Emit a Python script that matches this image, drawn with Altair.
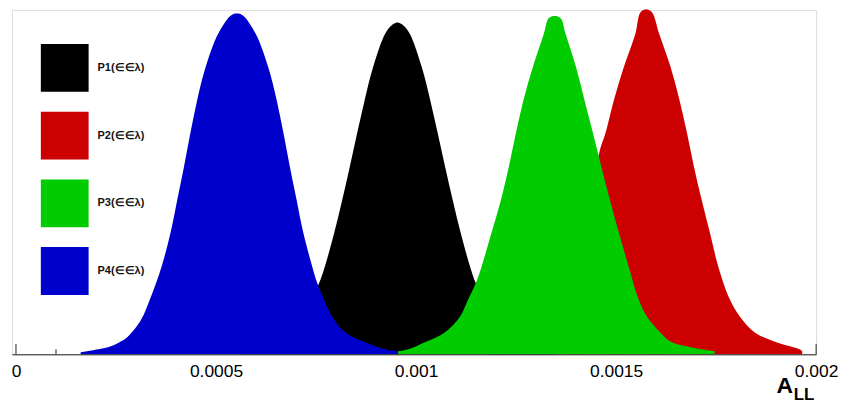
import altair as alt
import pandas as pd

# P1 (black)
p1_x = [0.00056, 0.0006177, 0.000645, 0.0006799, 0.0007147, 0.0007582, 0.0007719, 0.0007955,
        0.0008154, 0.0008341, 0.0008527, 0.0008714, 0.0008925, 0.0009224, 0.0009386,
        0.0009535, 0.0009684, 0.0009846, 0.0010144, 0.0010356, 0.0010542, 0.0010729,
        0.0010916, 0.0011115, 0.0011351, 0.0011488, 0.0011923, 0.0012272, 0.001262,
        0.0012893, 0.00135]
p1_y = [0.004, 0.01, 0.022, 0.05, 0.1, 0.2075, 0.2536, 0.3516, 0.4467, 0.5418, 0.6398,
        0.7349, 0.8308, 0.9271, 0.952, 0.9605, 0.952, 0.9271, 0.8308, 0.7349, 0.6398,
        0.5418, 0.4467, 0.3516, 0.2536, 0.2075, 0.1, 0.05, 0.022, 0.01, 0.004]

# P2 (red)
p2_x = [0.0011841, 0.0011923, 0.0012503, 0.0013043, 0.0013416, 0.0013666, 0.0013953,
        0.0014162, 0.0014368, 0.0014595, 0.0014734, 0.0014943, 0.0015192, 0.0015481,
        0.001561, 0.0015754, 0.0015896, 0.0016078, 0.0016364, 0.0016587, 0.0016774,
        0.0016948, 0.001714, 0.0017346, 0.0017555, 0.0017844, 0.0018093, 0.0018466,
        0.0019005, 0.0019585, 0.0019652]
p2_y = [0.0086, 0.0144, 0.0346, 0.0634, 0.1095, 0.1585, 0.2536, 0.3516, 0.4467, 0.5908,
        0.6398, 0.7349, 0.8308, 0.9271, 0.99, 0.999, 0.99, 0.9271, 0.8308, 0.7349, 0.6398,
        0.5418, 0.4467, 0.3516, 0.2536, 0.1585, 0.1095, 0.0634, 0.0346, 0.0144, 0.0086]

# P3 (green)
p3_x = [0.0009552, 0.0009801, 0.0010217, 0.0010716, 0.0011102, 0.0011301, 0.00115,
        0.0011637, 0.0011886, 0.0012122, 0.0012316, 0.0012495, 0.0012682, 0.0012918,
        0.0013192, 0.0013316, 0.0013465, 0.0013615, 0.0013739, 0.00140, 0.0014212,
        0.0014423, 0.0014635, 0.0014847, 0.001507, 0.0015316, 0.0015565, 0.0015771,
        0.0016102, 0.0016395, 0.0016891, 0.0017463]
p3_y = [0.0086, 0.0144, 0.0346, 0.0634, 0.1095, 0.1585, 0.2075, 0.2536, 0.3516, 0.4467,
        0.5418, 0.6398, 0.7349, 0.8308, 0.9271, 0.973, 0.9798, 0.973, 0.9271, 0.8308,
        0.7349, 0.6398, 0.5418, 0.4467, 0.3516, 0.2536, 0.1585, 0.1095, 0.0634, 0.0346,
        0.02, 0.0095]

# P4 (blue)
p4_x = [0.0001617, 0.0001965, 0.0002338, 0.0002587, 0.0002786, 0.0003127, 0.0003346,
        0.0003639, 0.0003863, 0.000403, 0.0004197, 0.0004358, 0.0004527, 0.0004739,
        0.000505, 0.0005373, 0.0005522, 0.0005672, 0.0005995, 0.0006306, 0.0006518,
        0.0006687, 0.0006848, 0.0007015, 0.0007182, 0.0007406, 0.0007525, 0.0007699,
        0.0007898, 0.0008234, 0.0008731, 0.0009229, 0.0009552]
p4_y = [0.006, 0.0125, 0.022, 0.035, 0.05, 0.10, 0.1585, 0.2536, 0.3516, 0.4467, 0.5418,
        0.6398, 0.7349, 0.8308, 0.927, 0.981, 0.9865, 0.981, 0.927, 0.8308, 0.7349,
        0.6398, 0.5418, 0.4467, 0.3516, 0.2536, 0.2075, 0.1585, 0.1095, 0.0634, 0.0346,
        0.0144, 0.0086]

series_names = ["P1(\u2208\u2208\u03bb)", "P2(\u2208\u2208\u03bb)", "P3(\u2208\u2208\u03bb)", "P4(\u2208\u2208\u03bb)"]
series_colors = ["#000000", "#cc0000", "#00cc00", "#0000cc"]

major_ticks = [0, 0.0005, 0.001, 0.0015, 0.002]
minor_ticks = [0.0001, 0.0002, 0.0003, 0.0004, 0.0006, 0.0007, 0.0008, 0.0009,
               0.0011, 0.0012, 0.0013, 0.0014, 0.0016, 0.0017, 0.0018, 0.0019]

rows = []
for name, xs, ys in zip(series_names, [p1_x, p2_x, p3_x, p4_x], [p1_y, p2_y, p3_y, p4_y]):
    for a, b in zip(xs, ys):
        rows.append({"series": name, "x": a, "y": b})
df = pd.DataFrame(rows)

xscale = alt.Scale(domain=[-0.00001, 0.002], nice=False, zero=False)
yscale = alt.Scale(domain=[0, 0.997], nice=False, zero=True)
cscale = alt.Scale(domain=series_names, range=series_colors)

xaxis = alt.Axis(values=major_ticks, format="~g", title=None, grid=False, ticks=False,
                 tickSize=0, labelPadding=8, labelFlush=False, labelOverlap=False,
                 labelFont="Liberation Sans", labelFontSize=17.5, labelColor="#000000",
                 domain=True, domainColor="#222222", domainWidth=1, zindex=1)

def area_layer(idx, show_legend):
    if show_legend:
        leg = alt.Legend(title=None, orient="none", legendX=29, legendY=34.3,
                         symbolType="square", symbolSize=2304, symbolStrokeWidth=0,
                         symbolOpacity=1, rowPadding=20, labelOffset=9,
                         labelFont="Liberation Sans", labelFontWeight="bold",
                         labelFontSize=11, labelColor="#111111", labelLimit=300,
                         padding=0)
        enc_color = alt.Color("series:N", scale=cscale, legend=leg)
    else:
        enc_color = alt.Color("series:N", scale=cscale, legend=None)
    return alt.Chart(df).transform_filter(
        alt.datum.series == series_names[idx]
    ).mark_area(interpolate="catmull-rom", opacity=1).encode(
        x=alt.X("x:Q", scale=xscale, axis=xaxis),
        y=alt.Y("y:Q", scale=yscale, axis=None),
        color=enc_color,
    )

major_df = pd.DataFrame({"t": major_ticks})
minor_df = pd.DataFrame({"t": minor_ticks})

major_rule = alt.Chart(major_df).mark_rule(color="#222222", strokeWidth=1).encode(
    x=alt.X("t:Q", scale=xscale), y=alt.value(346), y2=alt.value(335.5))
minor_rule = alt.Chart(minor_df).mark_rule(color="#222222", strokeWidth=1).encode(
    x=alt.X("t:Q", scale=xscale), y=alt.value(346), y2=alt.value(341))

title_a = alt.Chart(pd.DataFrame({"t": ["A"]})).mark_text(
    align="right", baseline="alphabetic", font="Liberation Sans", fontWeight="bold",
    fontSize=23, color="#000000").encode(text="t:N", x=alt.value(784.7), y=alt.value(385.3))
title_ll = alt.Chart(pd.DataFrame({"t": ["LL"]})).mark_text(
    align="left", baseline="alphabetic", font="Liberation Sans", fontWeight="bold",
    fontSize=17, color="#000000").encode(text="t:N", x=alt.value(785.5), y=alt.value(391.7))

chart = alt.layer(
    major_rule, minor_rule,
    area_layer(1, True),   # P2 red (back)
    area_layer(0, False),  # P1 black
    area_layer(3, False),  # P4 blue
    area_layer(2, False),  # P3 green
    title_a, title_ll,
).properties(
    width=808, height=346,
    autosize=alt.AutoSizeParams(type="none"),
    padding={"left": 4, "top": 1, "right": 25, "bottom": 50},
).configure_view(
    stroke="#222222", strokeWidth=1, fill="white"
).configure(background="white")

chart.save("out.html", embed_options={"renderer": "svg", "actions": False})
